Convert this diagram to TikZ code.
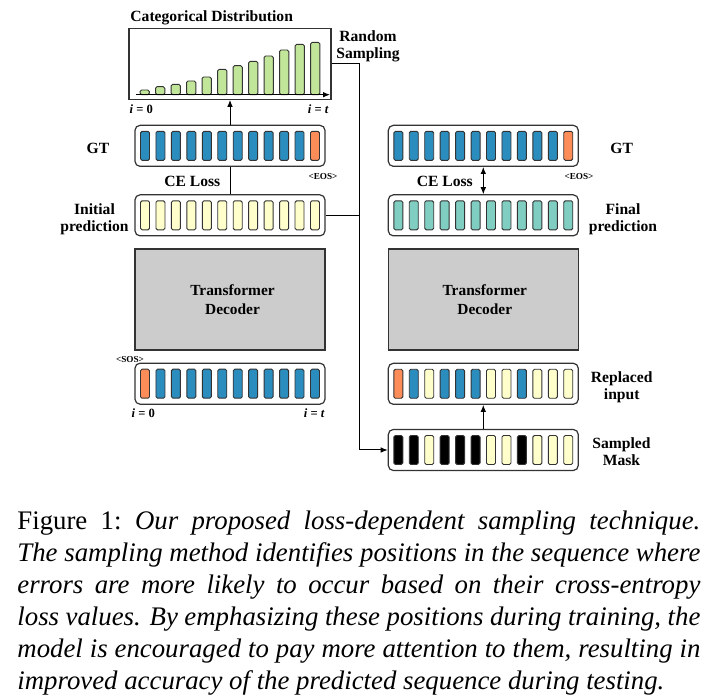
\documentclass[tikz,border=0pt]{standalone}
\usepackage{fontspec}
\setmainfont{Liberation Serif}
\usetikzlibrary{arrows.meta}

\newlength{\du}
\setlength{\du}{0.5pt}

\definecolor{seqblue}{RGB}{43,140,190}
\definecolor{seqorange}{RGB}{252,141,89}
\definecolor{seqyellow}{RGB}{255,255,204}
\definecolor{seqteal}{RGB}{128,205,193}
\definecolor{seqgreen}{RGB}{194,230,153}
\definecolor{seqblack}{RGB}{0,0,0}
\definecolor{decgray}{RGB}{204,204,204}

\tikzset{
  seqrow/.style={draw=black!80, line width=0.6pt, fill=white, rounded corners=5\du,
    minimum width=190\du, minimum height=41\du, inner sep=0pt},
  seqcell/.style={draw=black!80, line width=0.45pt, rounded corners=1.5\du},
  decbox/.style={draw=black!80, line width=0.7pt, fill=decgray, minimum width=190\du,
    minimum height=101\du, align=center, font=\fontsize{7.7}{9.3}\selectfont\bfseries},
  lbl/.style={font=\fontsize{7.8}{8.6}\selectfont\bfseries, align=center, inner sep=0pt},
  tok/.style={font=\fontsize{4.6}{5}\selectfont\bfseries, inner sep=0pt},
  idx/.style={font=\fontsize{6.3}{7}\selectfont\bfseries, inner sep=0pt},
  conn/.style={line width=0.5pt},
  arr/.style={-{Latex[length=3.5pt,width=2.8pt]}},
  arrtwo/.style={{Latex[length=3.5pt,width=2.8pt]}-{Latex[length=3.5pt,width=2.8pt]}}
}

% one row of twelve token cells around a row centre
\newcommand{\seqcells}[3]{%
  \foreach \c [count=\k from 0] in {#3}{%
    \pgfmathsetmacro{\cx}{#1+(\k-5.5)*15.45}
    \draw[seqcell,fill=\c] (\cx\du-4.5\du,#2\du-14.5\du) rectangle (\cx\du+4.5\du,#2\du+14.5\du);
  }%
}

\begin{document}
\begin{tikzpicture}
\pgftransformyscale{-1.000000}
\useasboundingbox (0,0) rectangle (713\du,699\du);

% categorical distribution
\node[draw=black!80, line width=0.6pt, minimum width=202\du, minimum height=71\du, inner sep=0pt] (chart) at (230\du,63.8\du) {};
\foreach \h [count=\k from 0] in {4.7,8,10.3,13.7,17.7,25.3,29,33.3,38.7,44.7,50.3,52.3}{
  \pgfmathsetmacro{\bx}{144.7+\k*15.5}
  \draw[seqcell,fill=seqgreen] (\bx\du-4.6\du,94.7\du) rectangle (\bx\du+4.6\du,94.7\du-\h\du);
}
\draw[conn,arr] (136\du,94.7\du) -- (330\du,94.7\du);
\node[lbl] (cattitle) at (211.7\du,18\du) {Categorical Distribution};
\node[lbl] (randsamp) at (368\du,46\du) {Random\\Sampling};
\node[idx] (chartzero) at (141.3\du,109\du) {\textit{i} = 0};
\node[idx] (chartt) at (318.3\du,109\du) {\textit{i} = \textit{t}};

% left column
\node[seqrow] (gtl) at (230\du,145.85\du) {};
\seqcells{230}{145.85}{seqblue,seqblue,seqblue,seqblue,seqblue,seqblue,seqblue,seqblue,seqblue,seqblue,seqblue,seqorange}
\node[seqrow] (initp) at (230\du,215.35\du) {};
\seqcells{230}{215.35}{seqyellow,seqyellow,seqyellow,seqyellow,seqyellow,seqyellow,seqyellow,seqyellow,seqyellow,seqyellow,seqyellow,seqyellow}
\node[decbox] (decl) at (230\du,299.5\du) {\hspace*{5\du}Transformer\\\hspace*{5\du}Decoder};
\node[seqrow] (inpl) at (230\du,383.7\du) {};
\seqcells{230}{383.7}{seqorange,seqblue,seqblue,seqblue,seqblue,seqblue,seqblue,seqblue,seqblue,seqblue,seqblue,seqblue}

\node[lbl] (gtllbl) at (98\du,148.5\du) {GT};
\node[lbl] (initlbl) at (94.5\du,219.5\du) {Initial\\prediction};
\node[lbl] (celossl) at (192.3\du,181.5\du) {CE Loss};
\node[tok] (eosl) at (323\du,176.5\du) {<EOS>};
\node[tok] (sosl) at (130\du,359.3\du) {<SOS>};
\node[idx] (inpzero) at (143.3\du,412.7\du) {\textit{i} = 0};
\node[idx] (inpt) at (314.3\du,412.7\du) {\textit{i} = \textit{t}};

% right column
\node[seqrow] (gtr) at (483.3\du,145.85\du) {};
\seqcells{483.3}{145.85}{seqblue,seqblue,seqblue,seqblue,seqblue,seqblue,seqblue,seqblue,seqblue,seqblue,seqblue,seqorange}
\node[seqrow] (finalp) at (483.3\du,215.35\du) {};
\seqcells{483.3}{215.35}{seqteal,seqteal,seqteal,seqteal,seqteal,seqteal,seqteal,seqteal,seqteal,seqteal,seqteal,seqteal}
\node[decbox] (decr) at (483.3\du,299.5\du) {\hspace*{3\du}Transformer\\\hspace*{3\du}Decoder};
\node[seqrow] (replin) at (483.3\du,383.8\du) {};
\seqcells{483.3}{383.8}{seqorange,seqblue,seqyellow,seqblue,seqblue,seqblue,seqyellow,seqyellow,seqblue,seqyellow,seqyellow,seqyellow}
\node[seqrow] (mask) at (483.3\du,450\du) {};
\seqcells{483.3}{450}{seqblack,seqblack,seqyellow,seqblack,seqblack,seqblack,seqyellow,seqyellow,seqblack,seqyellow,seqyellow,seqyellow}

\node[lbl] (gtrlbl) at (621.7\du,148.5\du) {GT};
\node[lbl] (finallbl) at (623\du,219\du) {Final\\prediction};
\node[lbl] (celossr) at (444.8\du,181.5\du) {CE Loss};
\node[tok] (eosr) at (579\du,176.5\du) {<EOS>};
\node[lbl] (repllbl) at (621.7\du,387\du) {Replaced\\input};
\node[lbl] (masklbl) at (621.5\du,451.5\du) {Sampled\\Mask};

% connectors
\coordinate (bend) at (359\du,63.8\du);
\draw[conn] (initp) -- (gtl);
\draw[conn,arr] (gtl) -- (chart);
\draw[conn,arr] (chart.east) -- (bend) |- (mask.west);
\draw[conn] (initp.east) -- (initp.east -| bend);
\draw[conn,arrtwo] (finalp) -- (gtr);
\draw[conn,arr] (mask) -- (replin);

% caption
\node[anchor=base west, inner sep=0pt, text width=683\du, align=justify,
  font=\fontsize{13.4}{16}\selectfont] (caption) at (17\du,530\du)
  {Figure 1:\enspace\textit{Our proposed loss-dependent sampling technique.\linebreak
  The sampling method identifies positions in the sequence where\linebreak
  errors are more likely to occur based on their cross-entropy\linebreak
  loss values. By emphasizing these positions during training, the\linebreak
  model is encouraged to pay more attention to them, resulting in\linebreak
  improved accuracy of the predicted sequence during testing.}};

\end{tikzpicture}
\end{document}
